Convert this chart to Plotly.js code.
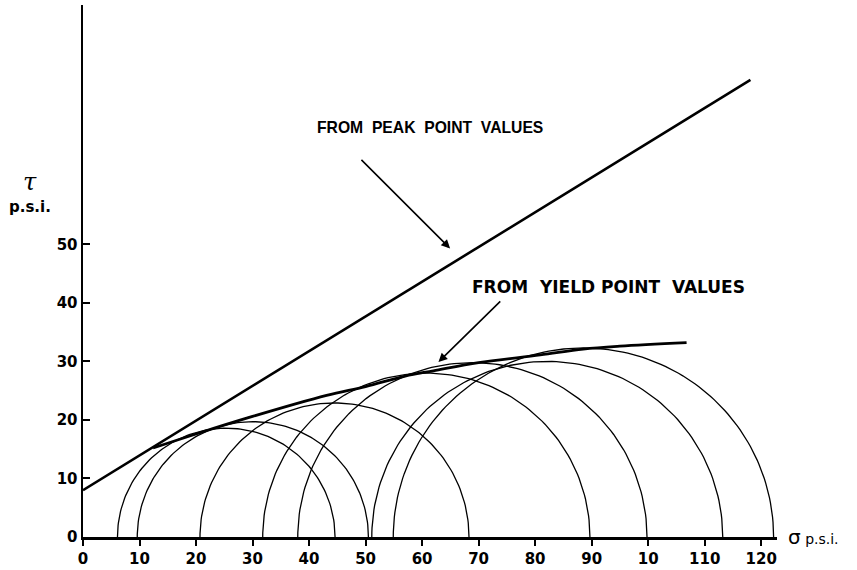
<!DOCTYPE html>
<html><head><meta charset="utf-8">
<script src="https://cdn.plot.ly/plotly-3.0.1.min.js"></script>
<style>html,body{margin:0;padding:0;background:#fff}#chart{width:857px;height:570px}</style>
</head><body><div id="chart"></div>
<script>
// Mohr circles: minor and major principal stress (p.s.i.) and apex height
const sigma3 = [6.1, 9.6, 20.7, 31.8, 38.0, 51.1, 54.9];
const sigma1 = [44.6, 50.5, 68.3, 89.7, 99.8, 113.2, 122.2];
const tauTop = [18.6, 19.7, 22.9, 28.0, 29.8, 30.0, 32.3];
// Envelope from peak point values (straight line)
const peakSigma = [0, 118.1];
const peakTau = [8.0, 78.1];
// Envelope from yield point values (curve)
const yieldSigma = [12.4, 20, 30, 43.1, 50, 57, 62, 70, 80.9, 88.5, 95, 106.8];
const yieldTau = [15.2, 17.6, 20.6, 24.2, 25.7, 27.5, 28.4, 29.8, 31.1, 32.1, 32.6, 33.2];
// Axis ticks
const xTickVals = [0,10,20,30,40,50,60,70,80,90,100,110,120];
const xTickText = ["0","10","20","30","40","50","60","70","80","90","10","110","120"];
const yTickVals = [0,10,20,30,40,50];
const yTickText = ["0","10","20","30","40","50"];

const traces = [];
const N = 120;
for (let i = 0; i < sigma3.length; i++) {
  const c = (sigma3[i] + sigma1[i]) / 2, r = (sigma1[i] - sigma3[i]) / 2;
  const xs = [], ys = [];
  for (let k = 0; k <= N; k++) {
    const t = Math.PI * k / N;
    xs.push(c + r * Math.cos(t));
    ys.push(tauTop[i] * Math.sin(t));
  }
  traces.push({x: xs, y: ys, mode: 'lines', line: {color: '#000', width: 1.3}, hoverinfo: 'skip'});
}
traces.push({x: peakSigma, y: peakTau, mode: 'lines', line: {color: '#000', width: 2.6}, hoverinfo: 'skip'});
traces.push({x: yieldSigma, y: yieldTau, mode: 'lines', line: {color: '#000', width: 2.8, shape: 'spline', smoothing: 1}, hoverinfo: 'skip'});

const lblFont = {family: 'DejaVu Sans', size: 15, color: '#000', weight: 'bold'};
const layout = {
  width: 857, height: 570,
  margin: {l: 83, r: 80, t: 5, b: 33, pad: 0},
  paper_bgcolor: '#fff', plot_bgcolor: '#fff',
  showlegend: false, hovermode: false,
  xaxis: {range: [0, 122.8], showgrid: false, zeroline: false, showline: true, linewidth: 2.5, linecolor: '#000',
          tickmode: 'array', tickvals: xTickVals, ticktext: xTickText, ticks: 'outside', ticklen: 6, tickwidth: 2,
          tickcolor: '#000', tickfont: lblFont, fixedrange: true},
  yaxis: {range: [0, 90.9], showgrid: false, zeroline: false, showline: true, linewidth: 2.5, linecolor: '#000',
          tickmode: 'array', tickvals: yTickVals, ticktext: yTickText, ticks: 'inside', ticklen: 7, tickwidth: 2,
          tickcolor: '#000', tickfont: lblFont, fixedrange: true},
  annotations: [
    {x: 41.06, y: 69.95, xref: 'x', yref: 'y', xanchor: 'left', yanchor: 'middle', showarrow: false,
     text: 'FROM  PEAK  POINT  VALUES', font: {family: 'Liberation Sans', size: 15.7, color: '#000', weight: 'bold'}},
    {x: 68.5, y: 42.7, xref: 'x', yref: 'y', xanchor: 'left', yanchor: 'middle', showarrow: false,
     text: 'FROM  YIELD POINT  VALUES', font: {family: 'DejaVu Sans', size: 17, color: '#000', weight: 'bold'}},
    {x: 64.96, y: 49.3, ax: 49.0, ay: 64.7, xref: 'x', yref: 'y', axref: 'x', ayref: 'y', text: '',
     showarrow: true, arrowhead: 2, arrowsize: 1.1, arrowwidth: 1.6, arrowcolor: '#000', standoff: 0},
    {x: 62.9, y: 29.9, ax: 74.1, ay: 40.5, xref: 'x', yref: 'y', axref: 'x', ayref: 'y', text: '',
     showarrow: true, arrowhead: 2, arrowsize: 1.1, arrowwidth: 1.6, arrowcolor: '#000', standoff: 0},
    {x: -0.076, y: 0.667, xref: 'paper', yref: 'paper', xanchor: 'center', yanchor: 'middle', showarrow: false,
     text: 'τ', font: {family: 'DejaVu Serif', size: 24, color: '#000', style: 'italic'}},
    {x: -0.076, y: 0.62, xref: 'paper', yref: 'paper', xanchor: 'center', yanchor: 'middle', showarrow: false,
     text: 'p.s.i.', font: {family: 'DejaVu Sans', size: 15, color: '#000', weight: 'bold'}},
    {x: 1.013, y: 0, xref: 'paper', yref: 'paper', xanchor: 'left', yanchor: 'middle', showarrow: false,
     text: '<span style="font-size:20px">σ</span> p.s.i.', font: {family: 'DejaVu Sans', size: 14, color: '#000'}}
  ]
};
Plotly.newPlot('chart', traces, layout, {displayModeBar: false, staticPlot: true});
</script></body></html>
